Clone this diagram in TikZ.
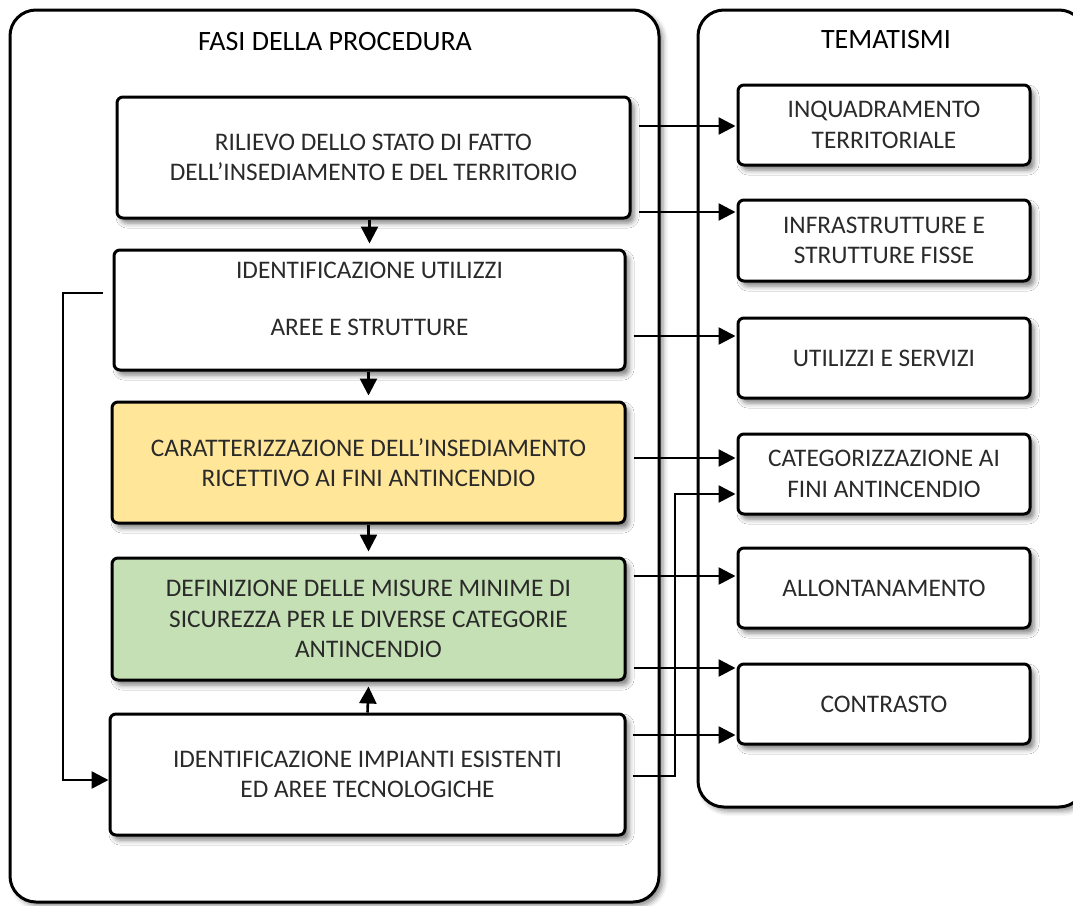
\documentclass[tikz,border=0pt]{standalone}
\usepackage{fontspec}
\setmainfont{Carlito}
\usetikzlibrary{shadows.blur,arrows.meta,calc}
\definecolor{txt}{HTML}{2A2A2A}
\definecolor{goldfill}{HTML}{FFE699}
\definecolor{greenfill}{HTML}{C5E0B4}

\begin{document}
\begin{tikzpicture}[x=1pt,y=-1pt,
  panel/.style={draw=black,line width=3pt,rounded corners=26pt,fill=white,inner sep=0pt,
    blur shadow={shadow xshift=4pt,shadow yshift=-4pt,shadow blur radius=5pt,shadow opacity=45}},
  phase/.style={draw=black,line width=3pt,rounded corners=6pt,fill=white,
    minimum width=513pt,minimum height=121pt,inner sep=0pt,align=center,text=txt,
    font=\fontsize{25.3}{30.5}\selectfont,
    blur shadow={shadow xshift=4pt,shadow yshift=-5pt,shadow blur radius=5pt,shadow opacity=50}},
  theme/.style={phase,minimum width=292pt,minimum height=80pt},
  caption/.style={align=center,text=txt,font=\fontsize{25.3}{30.5}\selectfont,inner sep=0pt},
  heading/.style={font=\fontsize{28}{32}\selectfont,text=black},
  flow/.style={line width=2.6pt,-{Triangle[length=17pt,width=17pt]}},
]
\useasboundingbox (0,0) rectangle (1073,905);

% two panels
\node[panel,minimum width=649pt,minimum height=892pt] (fasi) at (334.5,456) {};
\node[panel,minimum width=387pt,minimum height=797pt] (temi) at (891.5,408.5) {};
\node[heading] (fasititle) at (335,42) {FASI DELLA PROCEDURA};
\node[heading] (temititle) at (886,40) {TEMATISMI};

% rail positions for the connectors
\coordinate (rail) at (63,0);
\coordinate (bend) at (675,0);

% phases
\node[phase] (b1) at (373.5,157.5) {RILIEVO DELLO STATO DI FATTO\\DELL’INSEDIAMENTO E DEL TERRITORIO};
\node[phase,minimum width=511pt,minimum height=120pt] (b2) at (369.5,310) {};
\node[caption] (b2t) at ([yshift=11.5pt]b2.center) {IDENTIFICAZIONE UTILIZZI\\[26.5pt]AREE E STRUTTURE};
\node[phase,fill=goldfill] (b3) at (368.5,462.5) {CARATTERIZZAZIONE DELL’INSEDIAMENTO\\RICETTIVO AI FINI ANTINCENDIO};
\node[phase,fill=greenfill,minimum height=122pt] (b4) at (368.5,619) {DEFINIZIONE DELLE MISURE MINIME DI\\SICUREZZA PER LE DIVERSE CATEGORIE\\ANTINCENDIO};
\node[phase,minimum width=515pt] (b5) at (367.5,774.5) {IDENTIFICAZIONE IMPIANTI ESISTENTI\\ED AREE TECNOLOGICHE};

% themes
\node[theme] (r1) at (884,125) {INQUADRAMENTO\\TERRITORIALE};
\node[theme,minimum height=81pt] (r2) at (884,240.5) {INFRASTRUTTURE E\\STRUTTURE FISSE};
\node[theme] (r3) at (884,358) {UTILIZZI E SERVIZI};
\node[theme] (r4) at (884,474) {CATEGORIZZAZIONE AI\\FINI ANTINCENDIO};
\node[theme] (r5) at (884,588) {ALLONTANAMENTO};
\node[theme] (r6) at (884,704) {CONTRASTO};

% vertical flow between phases
\draw[flow] (b2.north |- b1.south) -- ([yshift=5pt]b2.north);
\draw[flow] (b3.north |- b2.south) -- ([yshift=5pt]b3.north);
\draw[flow] (b4.north |- b3.south) -- ([yshift=5pt]b4.north);
\draw[flow] (b5.north) -- ([yshift=-5pt]b4.south);

% feedback from the second phase to the last one
\coordinate (fb1) at ([xshift=-10pt,yshift=17pt]b2.west);
\coordinate (fb2) at ([yshift=-5.5pt]b5.west);
\draw[flow] (fb1) -- (fb1 -| rail) -- (rail |- fb2) -- (fb2);

% tails on the right side of the phases
\coordinate (p1) at ([xshift=7pt]b1.east);
\coordinate (p2) at ([xshift=7pt]b2.east);
\coordinate (p3) at ([xshift=7pt]b3.east);
\coordinate (p4) at ([xshift=7pt]b4.east);
\coordinate (p5) at ([xshift=6pt]b5.east);

% targets on the left side of the themes
\coordinate (q1) at ([xshift=-1pt,yshift=-1pt]r1.west);
\coordinate (q2) at ([xshift=-1pt,yshift=28.5pt]r2.west);
\coordinate (q3) at ([xshift=-1pt,yshift=22pt]r3.west);
\coordinate (q4) at ([xshift=-1pt,yshift=16pt]r4.west);
\coordinate (q4b) at ([xshift=-1pt,yshift=-20pt]r4.west);
\coordinate (q5) at ([xshift=-1pt,yshift=12pt]r5.west);
\coordinate (q6) at ([xshift=-1pt,yshift=36pt]r6.west);
\coordinate (q6b) at ([xshift=-1pt,yshift=-31pt]r6.west);

\draw[flow] (p1 |- q1) -- (q1);
\draw[flow] (p1 |- q2) -- (q2);
\draw[flow] (p2 |- q3) -- (q3);
\draw[flow] (p3 |- q4) -- (q4);
\draw[flow] (p4 |- q5) -- (q5);
\draw[flow] (p4 |- q6) -- (q6);
\draw[flow] (p5 |- q6b) -- (q6b);
\draw[flow] ([yshift=-1.5pt]p5) -- ([yshift=-1.5pt]p5 -| bend) -- (bend |- q4b) -- (q4b);
\end{tikzpicture}
\end{document}
